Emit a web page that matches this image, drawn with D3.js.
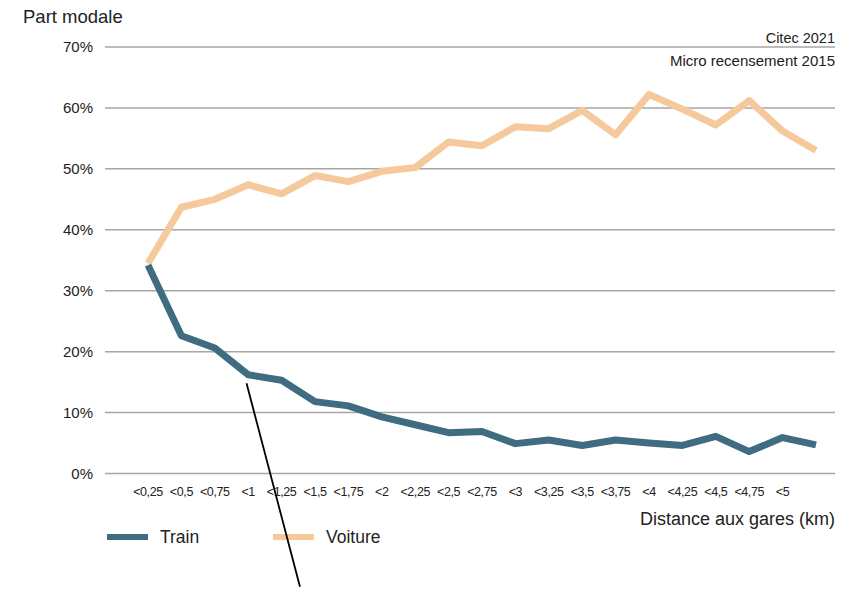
<html>
<head>
<script src="https://d3js.org/d3.v7.min.js"></script>
<style>
  body { margin: 0; background: #fff; }
  text { font-family: "Liberation Sans", Arial, sans-serif; fill: #222; }
</style>
</head>
<body>
<svg id="chart" width="848" height="591"></svg>
<script>
// distance classes (last class has no printed label)
const categories = ["<0,25","<0,5","<0,75","<1","<1,25","<1,5","<1,75","<2","<2,25","<2,5","<2,75",
                    "<3","<3,25","<3,5","<3,75","<4","<4,25","<4,5","<4,75","<5",""];
const train   = [34.2, 22.6, 20.6, 16.2, 15.3, 11.8, 11.1, 9.3, 8.0, 6.7, 6.9,
                 4.9, 5.5, 4.6, 5.5, 5.0, 4.6, 6.1, 3.6, 5.9, 4.7];
const voiture = [34.5, 43.7, 45.0, 47.4, 45.9, 48.9, 47.9, 49.6, 50.2, 54.4, 53.8,
                 56.9, 56.6, 59.6, 55.6, 62.2, 59.8, 57.2, 61.2, 56.2, 53.0];
const yTicks = [0, 10, 20, 30, 40, 50, 60, 70];

const svg = d3.select("svg#chart");

const x = d3.scalePoint().domain(d3.range(categories.length)).range([148, 816]);
const y = d3.scaleLinear().domain([0, 70]).range([473.5, 47]);
const gridLeft = 105, gridRight = 835;

// gridlines
svg.append("g").selectAll("line").data(yTicks).join("line")
  .attr("x1", gridLeft).attr("x2", gridRight)
  .attr("y1", d => y(d)).attr("y2", d => y(d))
  .attr("stroke", "#a6a6a6").attr("stroke-width", 1.5);

// y labels
svg.append("g").selectAll("text").data(yTicks).join("text")
  .attr("x", 93).attr("y", d => y(d) + 5)
  .attr("text-anchor", "end").attr("font-size", 15)
  .text(d => d + "%");

// x labels
svg.append("g").selectAll("text").data(categories).join("text")
  .attr("x", (d, i) => x(i)).attr("y", 496)
  .attr("text-anchor", "middle").attr("font-size", 12.5)
  .attr("letter-spacing", -0.4)
  .text(d => d);

const line = d3.line().x((d, i) => x(i)).y(d => y(d));

svg.append("path").datum(voiture)
  .attr("d", line).attr("fill", "none")
  .attr("stroke", "#f6c99c").attr("stroke-width", 7)
  .attr("stroke-linejoin", "round");

svg.append("path").datum(train)
  .attr("d", line).attr("fill", "none")
  .attr("stroke", "#3f6c81").attr("stroke-width", 7)
  .attr("stroke-linejoin", "round");

// titles and sources
svg.append("text").attr("x", 23).attr("y", 23).attr("font-size", 18.5).text("Part modale");
svg.append("text").attr("x", 835).attr("y", 525).attr("font-size", 18)
  .attr("text-anchor", "end").text("Distance aux gares (km)");
svg.append("text").attr("x", 835).attr("y", 43).attr("font-size", 14.5)
  .attr("text-anchor", "end").text("Citec 2021");
svg.append("text").attr("x", 835).attr("y", 66).attr("font-size", 15)
  .attr("text-anchor", "end").text("Micro recensement 2015");

// legend
const legend = [
  {name: "Train", color: "#3f6c81", x: 107},
  {name: "Voiture", color: "#f6c99c", x: 273}
];
const lg = svg.append("g").selectAll("g").data(legend).join("g")
  .attr("transform", d => `translate(${d.x},537)`);
lg.append("line").attr("x1", 0).attr("x2", 41).attr("y1", 0).attr("y2", 0)
  .attr("stroke", d => d.color).attr("stroke-width", 6);
lg.append("text").attr("x", 53).attr("y", 6).attr("font-size", 17.5).text(d => d.name);

// hand-drawn pointer line (in data space)
const pointer = [[2.95, 14.8], [4.55, -18.6]];
svg.append("line")
  .attr("x1", x(0) + (x(1) - x(0)) * pointer[0][0]).attr("y1", y(pointer[0][1]))
  .attr("x2", x(0) + (x(1) - x(0)) * pointer[1][0]).attr("y2", y(pointer[1][1]))
  .attr("stroke", "#000").attr("stroke-width", 1.8);
</script>
</body>
</html>
